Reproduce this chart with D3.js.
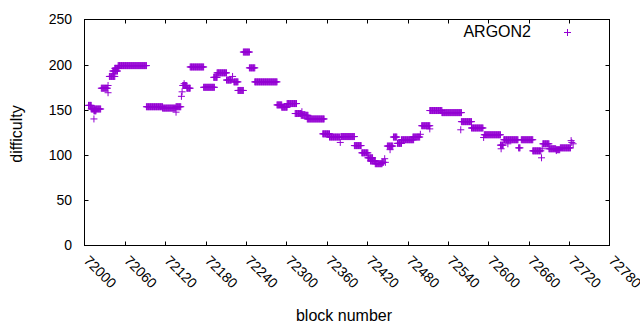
<!DOCTYPE html>
<html>
<head>
<meta charset="utf-8">
<script src="https://cdn.jsdelivr.net/npm/d3@7"></script>
<style>
  body { margin: 0; background: #fff; }
  text { font-family: "Liberation Sans", Arial, sans-serif; fill: #000; }
</style>
</head>
<body>
<div id="chart"></div>
<script>
'use strict';

// runs of consecutive blocks sharing one difficulty (from, to, value)
var runFrom = [72006, 72010, 72014, 72014, 72025, 72035, 72035, 72037, 72042, 72045,
  72050, 72092, 72116, 72136, 72136, 72144, 72145, 72146, 72148, 72152,
  72157, 72177, 72192, 72197, 72211, 72220, 72222, 72228, 72236, 72245,
  72253, 72286, 72293, 72301, 72313, 72323, 72322, 72331, 72354, 72364,
  72380, 72381, 72401, 72412, 72421, 72425, 72432, 72442, 72446, 72447,
  72450, 72454, 72459, 72465, 72471, 72488, 72499, 72501, 72513, 72513,
  72531, 72559, 72560, 72575, 72593, 72594, 72618, 72619, 72623, 72629,
  72645, 72649, 72666, 72679, 72680, 72681, 72690, 72701, 72701, 72707,
  72723, 72724, 72726];
var runTo = [72010, 72024, 72014, 72017, 72034, 72035, 72035, 72045, 72049, 72051,
  72092, 72116, 72135, 72136, 72143, 72144, 72145, 72152, 72148, 72157,
  72177, 72193, 72197, 72211, 72218, 72220, 72228, 72236, 72245, 72253,
  72286, 72293, 72301, 72315, 72322, 72323, 72332, 72356, 72364, 72379,
  72380, 72401, 72411, 72421, 72428, 72432, 72442, 72444, 72446, 72447,
  72458, 72454, 72464, 72471, 72489, 72498, 72499, 72513, 72513, 72531,
  72560, 72559, 72575, 72592, 72593, 72618, 72622, 72619, 72644, 72629,
  72647, 72666, 72678, 72679, 72680, 72690, 72700, 72701, 72706, 72722,
  72723, 72724, 72726];
var runDifficulty = [155, 151, 140, 149, 174, 177, 169, 187, 193, 196,
  199, 153.5, 152, 147.5, 153.5, 165, 170, 177, 179, 174,
  197.5, 175, 186, 191, 183, 187, 181, 171.5, 214, 196.5,
  181, 155.5, 153, 157, 146, 148, 144, 140, 123.5, 120,
  114, 120.5, 110.5, 102.5, 97, 93.5, 90.5, 92, 96, 92,
  110, 106, 120, 113, 117, 120, 123, 132.5, 129, 149.3,
  147, 128, 137, 130, 119.5, 122.5, 111, 107, 117, 112.5,
  108, 117, 104.7, 97, 107, 112.5, 107, 105, 106, 108,
  116, 114, 112.5];

var xTicks = [72000, 72060, 72120, 72180, 72240, 72300, 72360, 72420, 72480,
  72540, 72600, 72660, 72720, 72780];
var yTicks = [0, 50, 100, 150, 200, 250];
var seriesName = 'ARGON2';

var W = 640, H = 330;
var m = {left: 84.5, right: 609.5, top: 19.5, bottom: 245.5};
var color = '#9400d3';
var arm = 3.5, tickLen = 4;

var points = [];
runFrom.forEach(function(from, i) {
  for (var b = from; b <= runTo[i]; b++) {
    points.push({block: b, difficulty: runDifficulty[i]});
  }
});

var x = d3.scaleLinear().domain([xTicks[0], xTicks[xTicks.length - 1]]).range([m.left, m.right]);
var y = d3.scaleLinear().domain([0, 250]).range([m.bottom, m.top]);

var svg = d3.select('#chart').append('svg')
  .attr('width', W).attr('height', H);

var plus = function(px, py) {
  return 'M' + (px - arm) + ',' + py + 'h' + (2 * arm) + 'M' + px + ',' + (py - arm) + 'v' + (2 * arm);
};

// border with mirrored inward ticks
var axes = svg.append('g').attr('stroke', '#000').attr('stroke-width', 1).attr('fill', 'none');
axes.append('rect')
  .attr('x', m.left).attr('y', m.top)
  .attr('width', m.right - m.left).attr('height', m.bottom - m.top);

axes.selectAll('.xtick')
  .data(xTicks.slice(1, -1))
  .enter().append('path')
  .attr('d', function(d) {
    var px = Math.round(x(d)) + 0.5;
    return 'M' + px + ',' + m.bottom + 'v' + (-tickLen) + 'M' + px + ',' + m.top + 'v' + tickLen;
  });

axes.selectAll('.ytick')
  .data(yTicks.slice(1, -1))
  .enter().append('path')
  .attr('d', function(d) {
    var py = Math.round(y(d)) + 0.5;
    return 'M' + m.left + ',' + py + 'h' + tickLen + 'M' + m.right + ',' + py + 'h' + (-tickLen);
  });

svg.selectAll('.ylabel')
  .data(yTicks)
  .enter().append('text')
  .attr('x', m.left - 12.5)
  .attr('y', function(d) { return y(d); })
  .attr('dy', '0.35em')
  .attr('text-anchor', 'end')
  .style('font-size', '14px')
  .text(function(d) { return d; });

svg.selectAll('.xlabel')
  .data(xTicks)
  .enter().append('text')
  .attr('transform', function(d) { return 'translate(' + (x(d) + 2) + ',258) rotate(45)'; })
  .attr('dy', '0.35em')
  .attr('text-anchor', 'start')
  .style('font-size', '14px')
  .text(function(d) { return d; });

svg.append('text')
  .attr('x', 344).attr('y', 321)
  .attr('text-anchor', 'middle')
  .style('font-size', '16px')
  .text('block number');

svg.append('text')
  .attr('transform', 'translate(22,134) rotate(-90)')
  .attr('text-anchor', 'middle')
  .style('font-size', '16px')
  .text('difficulty');

// points
svg.append('g')
  .attr('stroke', color).attr('stroke-width', 1).attr('fill', 'none')
  .selectAll('path')
  .data(points)
  .enter().append('path')
  .attr('d', function(d) { return plus(x(d.block), y(d.difficulty)); });

// key
svg.append('text')
  .attr('x', 531).attr('y', 37)
  .attr('text-anchor', 'end')
  .style('font-size', '16px')
  .text(seriesName);
svg.append('path')
  .attr('stroke', color).attr('stroke-width', 1).attr('fill', 'none')
  .attr('d', plus(567.5, 32.5));
</script>
</body>
</html>
